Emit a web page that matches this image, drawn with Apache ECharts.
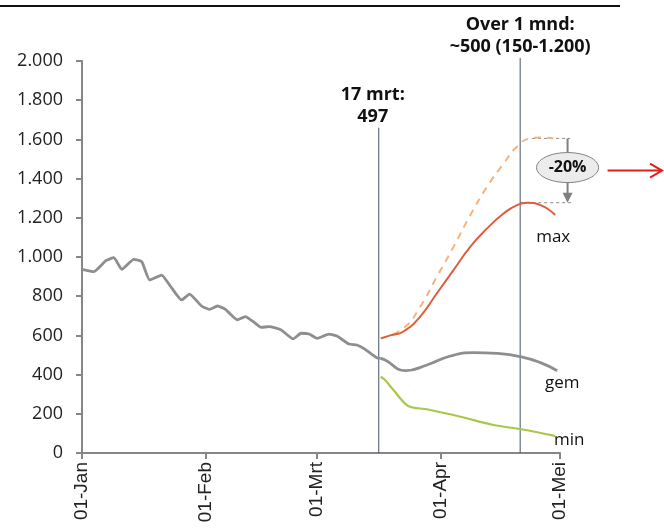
<!DOCTYPE html>
<html>
<head>
<meta charset="utf-8">
<script src="https://cdn.jsdelivr.net/npm/echarts@6/dist/echarts.min.js"></script>
<style>
html,body{margin:0;padding:0;background:#fff;}
#c{width:664px;height:529px;}
</style>
</head>
<body>
<div id="c"></div>
<script>
// x = days since 01-Jan
const monthStarts = [0, 31, 59, 90, 120];
const monthLabels = ['01-Jan', '01-Feb', '01-Mrt', '01-Apr', '01-Mei'];

// history (grey)
const histDays   = [0, 3, 6, 8, 10, 13, 15, 17, 20, 22, 25, 27, 30, 32, 34, 36, 39, 41, 43, 45, 47, 50, 53, 55, 57, 59, 62, 64, 67, 69, 71, 74, 75];
const histValues = [937, 925, 981, 997, 937, 988, 976, 883, 908, 857, 781, 811, 750, 733, 750, 733, 679, 696, 670, 641, 645, 628, 582, 611, 607, 585, 607, 597, 556, 551, 530, 486, 483];

// forecast: gem (grey)
const gemDays   = [75, 76.1, 81.2, 86.6, 92.5, 98.3, 104.2, 110.3, 115.1, 119.3];
const gemValues = [483, 474, 420, 449, 495, 512, 508, 491, 461, 420];

// forecast: max (solid)
const maxDays   = [75, 77.4, 80.7, 84.9, 89.1, 93.3, 97.5, 101.7, 105.9, 109.2, 111.7, 115.1, 118.8];
const maxValues = [585, 600, 620, 696, 815, 934, 1053, 1146, 1223, 1265, 1277, 1265, 1214];

// forecast: max without reduction (dashed)
const maxHighDays   = [75, 80.7, 84.9, 89.1, 93.3, 97.5, 101.7, 105.9, 109.2, 112.5, 115.5, 118.3];
const maxHighValues = [585, 636, 746, 900, 1053, 1214, 1359, 1478, 1563, 1605, 1610, 1605];

// forecast: min (green)
const minDays   = [75, 76.1, 78.2, 81.9, 86.6, 95, 103.3, 110.3, 118.8];
const minValues = [389, 372, 321, 240, 223, 185, 143, 121, 87];

// vertical markers
const markerDays = [75, 110];
const markerTops = [1660, 2015];
const markerText = [['17 mrt:', '497'], ['Over 1 mnd:', '~500 (150-1.200)']];

// reduction annotation
const reductionTop = 1605;
const reductionBottom = 1277;
const reductionText = '-20%';

const zip = (a, b) => a.map((d, i) => [d, b[i]]);
const fmtNum = v => String(v).replace(/\B(?=(\d{3})+(?!\d))/g, '.');

const chart = echarts.init(document.getElementById('c'));
const lineBase = { type: 'line', symbol: 'none', animation: false, z: 3 };

chart.setOption({
  animation: false,
  grid: { left: 82, right: 104, top: 61, bottom: 76, containLabel: false },
  xAxis: {
    type: 'value', min: 0, max: 120,
    axisLine: { show: true, onZero: false, lineStyle: { color: '#868686', width: 2 } },
    axisTick: { show: true, customValues: monthStarts, length: 6, lineStyle: { color: '#868686', width: 2 } },
    axisLabel: {
      customValues: monthStarts, rotate: 90, margin: 9,
      fontFamily: 'Liberation Sans', fontSize: 19, color: '#222',
      formatter: v => monthLabels[monthStarts.indexOf(v)] || ''
    },
    splitLine: { show: false }
  },
  yAxis: {
    type: 'value', min: 0, max: 2000, interval: 200,
    axisLine: { show: true, lineStyle: { color: '#868686', width: 2 } },
    axisTick: { show: true, length: 6, lineStyle: { color: '#868686', width: 2 } },
    axisLabel: { fontFamily: 'Open Sans', fontSize: 18, color: '#222', margin: 19, formatter: v => fmtNum(v) },
    splitLine: { show: false }
  },
  series: [
    Object.assign({}, lineBase, {
      name: 'hist', data: zip(histDays, histValues), smooth: 0.15,
      lineStyle: { color: '#8e8e8e', width: 2.8 }
    }),
    Object.assign({}, lineBase, {
      name: 'maxHigh', data: zip(maxHighDays, maxHighValues), smooth: true,
      lineStyle: { color: '#f5b27c', width: 2, type: [7, 6] }
    }),
    Object.assign({}, lineBase, {
      name: 'max', data: zip(maxDays, maxValues), smooth: true,
      lineStyle: { color: '#dc5f3c', width: 2 }
    }),
    Object.assign({}, lineBase, {
      name: 'gem', data: zip(gemDays, gemValues), smooth: true,
      lineStyle: { color: '#8e8e8e', width: 2.8 }
    }),
    Object.assign({}, lineBase, {
      name: 'min', data: zip(minDays, minValues), smooth: 0.3,
      lineStyle: { color: '#a8c84a', width: 2.2 }
    })
  ]
});

const px = (x, y) => chart.convertToPixel({ gridIndex: 0 }, [x, y]);
const g = [];

// top rule
g.push({ type: 'line', shape: { x1: 0, y1: 6, x2: 620, y2: 6 }, style: { stroke: '#111', lineWidth: 2 } });

// vertical marker lines + captions
markerDays.forEach((d, i) => {
  const p0 = px(d, 0), p = px(d, markerTops[i]);
  const sx = i === 0 ? -2 : 0;
  g.push({ type: 'line', z: 2, shape: { x1: p0[0] + sx, y1: p0[1], x2: p[0] + sx, y2: p[1] }, style: { stroke: '#44546a', lineWidth: 1 } });
  const lines = markerText[i];
  lines.forEach((t, j) => {
    g.push({
      type: 'text', x: p[0] - (i === 0 ? 8 : 0), y: p[1] - 2 - (lines.length - 1 - j) * 22,
      style: { text: t, fontFamily: 'Open Sans', fontWeight: 'bold', fontSize: 18, fill: '#111', align: 'center', verticalAlign: 'bottom' }
    });
  });
});

// series end labels
const endLabel = (days, vals, text, dx, dy) => {
  const p = px(days[days.length - 1], vals[vals.length - 1]);
  g.push({ type: 'text', x: p[0] + dx, y: p[1] + dy,
    style: { text: text, fontFamily: 'Open Sans', fontSize: 17, fill: '#111', align: 'center', verticalAlign: 'middle' } });
};
endLabel(maxDays, maxValues, 'max', -2, 22);
endLabel(gemDays, gemValues, 'gem', 5, 12);
endLabel(minDays, minValues, 'min', 14, 4);

// reduction annotation
const pTopA = px(113, reductionTop), pTopB = px(122.6, reductionTop);
const pBotA = px(110, reductionBottom), pBotB = px(123, reductionBottom);
g.push({ type: 'line', shape: { x1: pTopA[0], y1: pTopA[1], x2: pTopB[0], y2: pTopB[1] }, style: { stroke: '#8a8a8a', lineWidth: 1, lineDash: [3, 3] } });
g.push({ type: 'line', shape: { x1: pBotA[0], y1: pBotA[1], x2: pBotB[0], y2: pBotB[1] }, style: { stroke: '#8a8a8a', lineWidth: 1, lineDash: [3, 3] } });
const ax = px(121.9, 0)[0];
g.push({ type: 'line', shape: { x1: ax, y1: pTopA[1], x2: ax, y2: pBotA[1] - 8 }, style: { stroke: '#7f7f7f', lineWidth: 2 } });
g.push({ type: 'polygon', shape: { points: [[ax - 5, pBotA[1] - 10], [ax + 5, pBotA[1] - 10], [ax, pBotA[1]]] }, style: { fill: '#7f7f7f' } });
const cy = (pTopA[1] + pBotA[1]) / 2 - 3;
g.push({ type: 'ellipse', shape: { cx: ax, cy: cy, rx: 31, ry: 15 }, style: { fill: '#ececec', stroke: '#7f7f7f', lineWidth: 1 }, z: 10 });
g.push({ type: 'text', x: ax, y: cy, z: 11, style: { text: reductionText, fontFamily: 'Open Sans', fontWeight: 'bold', fontSize: 16, fill: '#111', align: 'center', verticalAlign: 'middle' } });
// red arrow
const rx1 = ax + 40, rx2 = 662, ry = cy + 3;
g.push({ type: 'line', shape: { x1: rx1, y1: ry, x2: rx2, y2: ry }, style: { stroke: '#e0201c', lineWidth: 2 } });
g.push({ type: 'polyline', shape: { points: [[rx2 - 12, ry - 7], [rx2, ry], [rx2 - 12, ry + 7]] }, style: { stroke: '#e0201c', lineWidth: 2, fill: null } });

chart.setOption({ graphic: g });
</script>
</body>
</html>
